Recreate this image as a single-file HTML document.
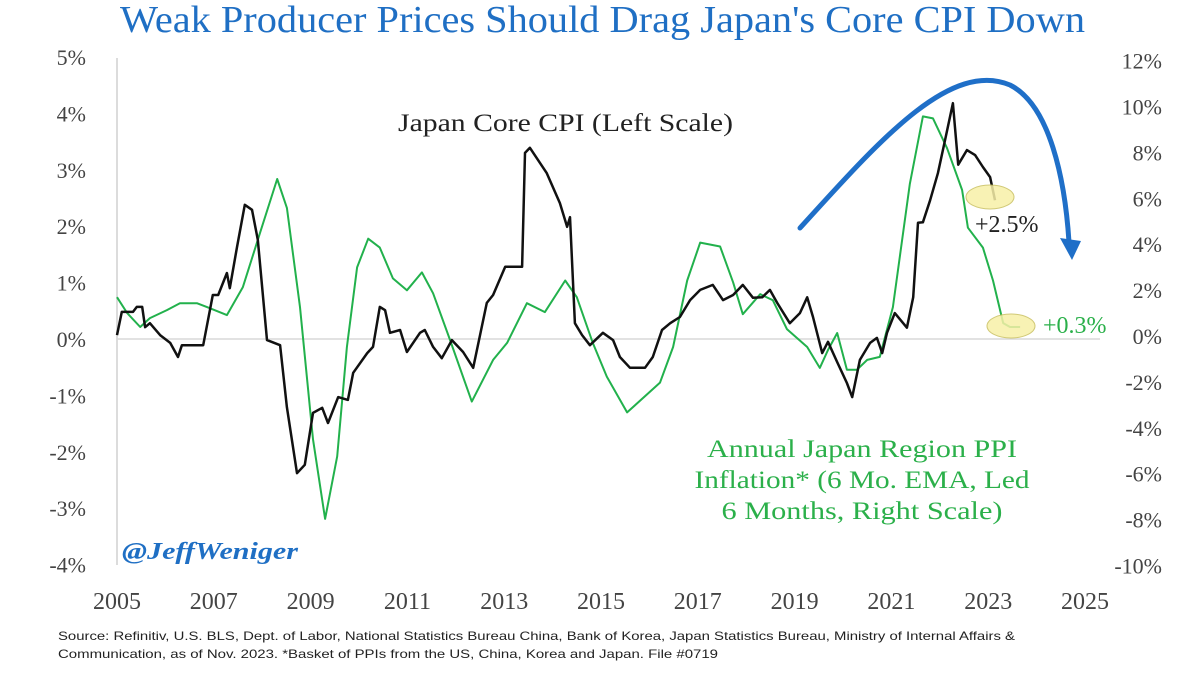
<!DOCTYPE html>
<html><head><meta charset="utf-8"><style>
html,body{margin:0;padding:0;background:#fff;}
svg{display:block;font-family:"Liberation Serif",serif;}
</style></head><body>
<svg id="chart" width="1200" height="675" viewBox="0 0 1200 675" xmlns="http://www.w3.org/2000/svg">
<text x="120" y="32" font-size="38" fill="#1f6fc4" textLength="965" lengthAdjust="spacingAndGlyphs">Weak Producer Prices Should Drag Japan's Core CPI Down</text>
<g id="axes"></g>
<g id="series"></g>
<path d="M800,228 C880,140 950,60 1010,85 C1050,105 1065,180 1069,242" fill="none" stroke="#1f6fc8" stroke-width="5" stroke-linecap="round"/>
<polygon points="1060,238 1081,241 1072,260" fill="#1f6fc8"/>
<ellipse cx="990" cy="197" rx="24" ry="12" fill="#f7f0a8" stroke="#c9c060" stroke-width="1" opacity="0.85"/>
<ellipse cx="1011" cy="326" rx="24" ry="12" fill="#f7f0a8" stroke="#c9c060" stroke-width="1" opacity="0.85"/>
<text x="398" y="131" font-size="25" fill="#222" textLength="335" lengthAdjust="spacingAndGlyphs">Japan Core CPI (Left Scale)</text>
<text x="975" y="232" font-size="24" fill="#222">+2.5%</text>
<text x="1043" y="333" font-size="24" fill="#2bb04a">+0.3%</text>
<g font-size="25" fill="#2bb04a" text-anchor="middle">
<text x="862" y="457" textLength="310" lengthAdjust="spacingAndGlyphs">Annual Japan Region PPI</text>
<text x="862" y="488" textLength="335" lengthAdjust="spacingAndGlyphs">Inflation* (6 Mo. EMA, Led</text>
<text x="862" y="519" textLength="281" lengthAdjust="spacingAndGlyphs">6 Months, Right Scale)</text>
</g>
<text x="122" y="559" font-size="24" font-weight="bold" font-style="italic" fill="#1f6fc4" textLength="176" lengthAdjust="spacingAndGlyphs">@JeffWeniger</text>
<g font-family="Liberation Sans, sans-serif" font-size="12" fill="#222">
<text x="58" y="640" textLength="957" lengthAdjust="spacingAndGlyphs">Source: Refinitiv, U.S. BLS, Dept. of Labor, National Statistics Bureau China, Bank of Korea, Japan Statistics Bureau, Ministry of Internal Affairs &amp;</text>
<text x="58" y="658" textLength="660" lengthAdjust="spacingAndGlyphs">Communication, as of Nov. 2023. *Basket of PPIs from the US, China, Korea and Japan. File #0719</text>
</g>
</svg>
<script>
const xTicks=[2005,2007,2009,2011,2013,2015,2017,2019,2021,2023,2025];
const leftTicks=[5,4,3,2,1,0,-1,-2,-3,-4];
const rightTicks=[12,10,8,6,4,2,0,-2,-4,-6,-8,-10];
const cpiYears=[2005.0,2005.10,2005.33,2005.41,2005.52,2005.58,2005.68,2005.89,2006.10,2006.26,2006.34,2006.78,2006.98,2007.09,2007.27,2007.33,2007.48,2007.64,2007.79,2007.91,2008.10,2008.37,2008.51,2008.72,2008.88,2009.05,2009.24,2009.36,2009.57,2009.77,2009.88,2010.17,2010.29,2010.43,2010.54,2010.64,2010.85,2010.99,2011.26,2011.36,2011.53,2011.71,2011.92,2012.15,2012.36,2012.64,2012.77,2013.02,2013.37,2013.43,2013.53,2013.88,2014.15,2014.30,2014.36,2014.46,2014.61,2014.77,2015.04,2015.25,2015.39,2015.60,2015.91,2016.07,2016.26,2016.43,2016.63,2016.84,2017.05,2017.31,2017.52,2017.73,2017.93,2018.14,2018.33,2018.49,2018.64,2018.90,2019.11,2019.26,2019.38,2019.57,2019.69,2019.88,2020.08,2020.19,2020.35,2020.56,2020.70,2020.81,2020.91,2021.07,2021.32,2021.45,2021.55,2021.65,2021.80,2021.96,2022.11,2022.27,2022.38,2022.56,2022.73,2022.89,2023.04,2023.14];
const cpiValues=[0.07,0.48,0.48,0.57,0.57,0.21,0.28,0.07,-0.07,-0.32,-0.11,-0.11,0.78,0.78,1.17,0.90,1.63,2.38,2.29,1.76,-0.02,-0.11,-1.21,-2.38,-2.23,-1.31,-1.22,-1.49,-1.03,-1.08,-0.60,-0.25,-0.14,0.57,0.51,0.11,0.16,-0.23,0.11,0.16,-0.14,-0.34,-0.02,-0.23,-0.51,0.64,0.78,1.28,1.28,3.30,3.39,2.94,2.41,1.99,2.16,0.28,0.07,-0.11,0.11,-0.02,-0.32,-0.51,-0.51,-0.32,0.16,0.28,0.39,0.69,0.87,0.96,0.69,0.78,0.96,0.73,0.74,0.87,0.64,0.28,0.46,0.74,0.39,-0.25,-0.05,-0.41,-0.78,-1.03,-0.37,-0.07,0.02,-0.25,0.11,0.46,0.20,0.74,2.06,2.07,2.46,2.94,3.53,4.18,3.09,3.35,3.26,3.05,2.87,2.46];
const ppiYears=[2005.0,2005.21,2005.48,2005.68,2006.03,2006.30,2006.65,2006.86,2007.27,2007.60,2007.95,2008.31,2008.51,2008.78,2009.05,2009.30,2009.55,2009.75,2009.96,2010.19,2010.43,2010.70,2010.99,2011.30,2011.53,2011.88,2012.33,2012.77,2013.06,2013.47,2013.84,2014.26,2014.50,2014.83,2015.12,2015.54,2016.22,2016.49,2016.78,2017.05,2017.46,2017.73,2017.93,2018.29,2018.55,2018.84,2019.26,2019.52,2019.69,2019.88,2020.08,2020.29,2020.50,2020.76,2021.03,2021.38,2021.65,2021.86,2022.15,2022.46,2022.58,2022.89,2023.10,2023.31,2023.45,2023.66];
const ppiValues=[1.69,1.00,0.39,0.78,1.13,1.43,1.43,1.26,0.91,2.12,4.46,6.84,5.58,1.26,-4.50,-7.97,-5.24,-0.48,2.99,4.24,3.85,2.51,1.99,2.77,1.86,-0.17,-2.86,-1.04,-0.30,1.43,1.04,2.42,1.69,-0.30,-1.77,-3.33,-2.03,-0.48,2.42,4.07,3.90,2.34,0.95,1.82,1.56,0.30,-0.48,-1.39,-0.61,0.13,-1.47,-1.47,-1.04,-0.91,1.26,6.62,9.57,9.48,8.18,6.36,4.72,3.85,2.42,0.56,0.39,0.39];

const NS='http://www.w3.org/2000/svg';
function xS(y){return 117+(y-2005)*48.4;}
function yL(v){return 339+(0-v)*56.4;}
function yR(v){return 336-v*22.95;}
function mk(tag,attrs,parent){const e=document.createElementNS(NS,tag);for(const k in attrs)e.setAttribute(k,attrs[k]);parent.appendChild(e);return e;}
const axes=document.getElementById('axes');
let e=mk('line',{x1:117,x2:117,y1:58,y2:565,stroke:'#d0d0d0','stroke-width':1.5},axes);


e=mk('line',{x1:117,x2:1100,y1:yL(0),y2:yL(0),stroke:'#d8d8d8','stroke-width':1.5},axes);


leftTicks.forEach(v=>{
  const t=mk('text',{x:86,y:yL(v)+8,'text-anchor':'end','font-size':22,fill:'#444'},axes);
  t.textContent=v+'%';
  
  
});
rightTicks.forEach(v=>{
  const t=mk('text',{x:1162,y:yR(v)+8,'text-anchor':'end','font-size':22,fill:'#444'},axes);
  t.textContent=v+'%';
  
  
});
xTicks.forEach(v=>{
  const t=mk('text',{x:xS(v),y:609,'text-anchor':'middle','font-size':24,fill:'#444'},axes);
  t.textContent=v;
  
  
});
const ser=document.getElementById('series');
let d=ppiYears.map((y,i)=>(i?'L':'M')+xS(y).toFixed(1)+','+yR(ppiValues[i]).toFixed(1)).join(' ');
e=mk('path',{d:d,fill:'none',stroke:'#22b14c','stroke-width':2,'stroke-linejoin':'round'},ser);


d=cpiYears.map((y,i)=>(i?'L':'M')+xS(y).toFixed(1)+','+yL(cpiValues[i]).toFixed(1)).join(' ');
e=mk('path',{d:d,fill:'none',stroke:'#111','stroke-width':2.5,'stroke-linejoin':'round'},ser);


</script>
</body></html>
